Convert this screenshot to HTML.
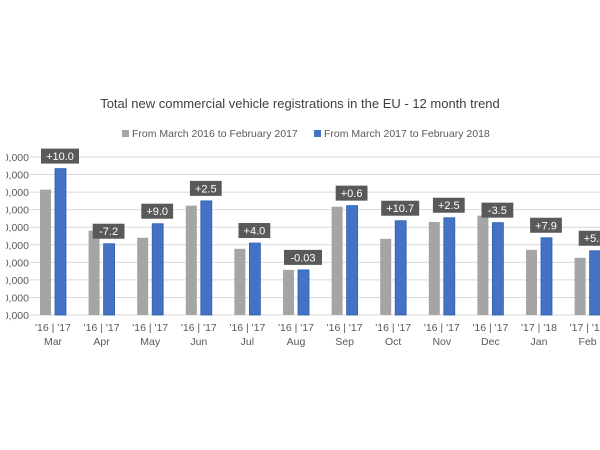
<!DOCTYPE html>
<html><head><meta charset="utf-8"><style>
html,body{margin:0;padding:0;background:#fff;overflow:hidden}
svg{display:block;font-family:"Liberation Sans",Calibri,sans-serif}
</style></head><body>
<svg id="c" width="600" height="450">
<defs><clipPath id="yclip"><rect x="6" y="140" width="30" height="190"/></clipPath></defs>
<text x="300" y="108" text-anchor="middle" font-size="13" fill="#404040">Total new commercial vehicle registrations in the EU - 12 month trend</text>
<g>
<rect x="122" y="130" width="7" height="7" fill="#a5a5a5"/>
<text x="132" y="137" font-size="10.5" fill="#595959">From March 2016 to February 2017</text>
<rect x="314" y="130" width="7" height="7" fill="#4472c4"/>
<text x="324" y="137" font-size="10.5" fill="#595959">From March 2017 to February 2018</text>
</g>
<g id="grid"></g><g id="ylab" clip-path="url(#yclip)"></g><g id="bars"></g><g id="labels"></g>
</svg>
<script>
const months=["Mar","Apr","May","Jun","Jul","Aug","Sep","Oct","Nov","Dec","Jan","Feb"];
const years=["'16 | '17","'16 | '17","'16 | '17","'16 | '17","'16 | '17","'16 | '17","'16 | '17","'16 | '17","'16 | '17","'16 | '17","'17 | '18","'17 | '18"];
const prev=[142800,96000,88000,124600,75400,51400,123400,86800,106000,113200,74200,65200];
const curr=[166800,81200,104000,130000,82000,51400,124600,107400,110800,105200,88000,73200];
const changes=["+10.0","-7.2","+9.0","+2.5","+4.0","-0.03","+0.6","+10.7","+2.5","-3.5","+7.9","+5.8"];
const yTicks=[0,20000,40000,60000,80000,100000,120000,140000,160000,180000];
const yMax=180000, yTop=157, yBot=315;
const NS="http://www.w3.org/2000/svg";
function y(v){return yBot-(v/yMax)*(yBot-yTop);}
function xc(i){return 53+i*48.6;}
function mk(tag,attrs,parent){const e=document.createElementNS(NS,tag);for(const k in attrs)e.setAttribute(k,attrs[k]);parent.appendChild(e);return e;}
const grid=document.getElementById('grid'),ylab=document.getElementById('ylab'),bars=document.getElementById('bars'),labels=document.getElementById('labels');
yTicks.forEach(t=>{
  const l=mk('line',{x1:30,x2:600,y1:y(t),y2:y(t),stroke:'#d9d9d9','stroke-width':1},grid);
  
  
  const tx=mk('text',{x:29,y:y(t)+4,'text-anchor':'end','font-size':'10.5',fill:'#595959'},ylab);
  tx.textContent=t.toLocaleString('en-US',{minimumIntegerDigits:5});
  
  
});
months.forEach((m,i)=>{
  const c=xc(i);
  const g=mk('rect',{x:c-13,y:y(prev[i]),width:11,height:yBot-y(prev[i]),fill:'#a5a5a5'},bars);
  
  
  const b=mk('rect',{x:c+2,y:y(curr[i]),width:11,height:yBot-y(curr[i]),fill:'#4472c4',stroke:'#2f5fb3','stroke-width':0.8},bars);
  
  
  const w=changes[i].length*6.2+7, by=y(curr[i])-20;
  const r=mk('rect',{x:c+7-w/2,y:by,width:w,height:15,fill:'#595959'},labels);
  
  
  const t=mk('text',{x:c+7,y:by+11.5,'text-anchor':'middle','font-size':'11',fill:'#fff'},labels);
  t.textContent=changes[i];
  
  
  const t1=mk('text',{x:c,y:331,'text-anchor':'middle','font-size':'10.5',fill:'#595959'},labels);
  t1.textContent=years[i];
  
  
  const t2=mk('text',{x:c,y:345,'text-anchor':'middle','font-size':'10.5',fill:'#595959'},labels);
  t2.textContent=m;
  
  
});
</script>
</body></html>
